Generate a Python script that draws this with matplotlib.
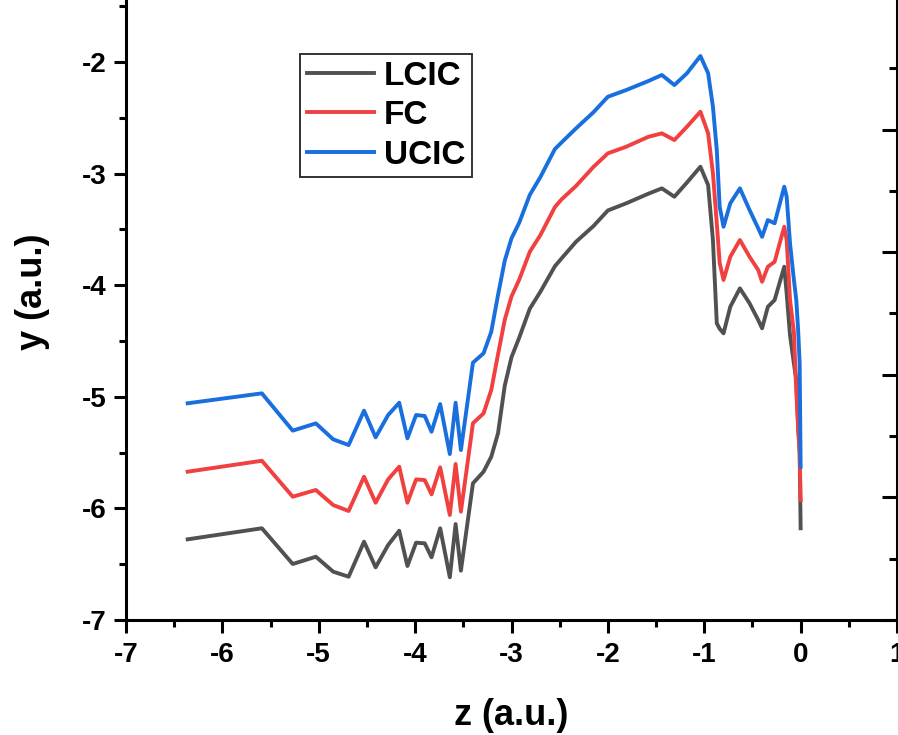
import matplotlib
matplotlib.use("Agg")
import matplotlib.pyplot as plt
from matplotlib.ticker import FixedLocator, MultipleLocator

plt.rcParams['font.family'] = ['Liberation Sans', 'DejaVu Sans']
plt.rcParams['font.weight'] = 'bold'
plt.rcParams['axes.unicode_minus'] = False

# shared z grid
z = [-6.36, -5.59, -5.27, -5.03, -4.85, -4.69, -4.53, -4.41, -4.28, -4.165,
     -4.08, -3.99, -3.90, -3.83, -3.74, -3.64, -3.58, -3.525, -3.40, -3.29,
     -3.21, -3.14, -3.07, -3.00, -2.92, -2.81, -2.70, -2.55, -2.48, -2.33,
     -2.15, -2.00, -1.81, -1.58, -1.44, -1.31, -1.18, -1.04, -0.96, -0.91,
     -0.87, -0.84, -0.80, -0.73, -0.63, -0.53, -0.44, -0.40, -0.34, -0.27,
     -0.17, -0.145, -0.11, -0.07, -0.045, -0.026, -0.01, 0.0]

lcic = [-6.277, -6.178, -6.498, -6.433, -6.567, -6.612, -6.298, -6.528, -6.328, -6.200,
        -6.516, -6.307, -6.313, -6.438, -6.178, -6.617, -6.140, -6.558, -5.775, -5.671,
        -5.537, -5.327, -4.900, -4.645, -4.470, -4.210, -4.058, -3.830, -3.759, -3.610,
        -3.470, -3.330, -3.266, -3.180, -3.132, -3.207, -3.080, -2.938, -3.102, -3.595,
        -4.341, -4.390, -4.431, -4.193, -4.028, -4.162, -4.312, -4.386, -4.193, -4.133,
        -3.834, -4.073, -4.450, -4.700, -4.850, -5.268, -5.500, -6.178]

fc = [-5.671, -5.573, -5.895, -5.835, -5.970, -6.023, -5.716, -5.949, -5.740, -5.626,
      -5.949, -5.740, -5.746, -5.874, -5.632, -6.059, -5.602, -6.029, -5.237, -5.148,
      -4.939, -4.620, -4.310, -4.100, -3.950, -3.700, -3.550, -3.300, -3.230, -3.110,
      -2.940, -2.818, -2.759, -2.670, -2.639, -2.699, -2.580, -2.445, -2.639, -2.997,
      -3.445, -3.800, -3.953, -3.745, -3.595, -3.745, -3.864, -3.969, -3.834, -3.790,
      -3.476, -3.595, -4.133, -4.420, -4.950, -5.268, -5.500, -5.925]

ucic = [-5.058, -4.969, -5.303, -5.238, -5.381, -5.432, -5.124, -5.363, -5.163, -5.053,
        -5.372, -5.163, -5.172, -5.313, -5.065, -5.513, -5.053, -5.477, -4.694, -4.610,
        -4.417, -4.088, -3.780, -3.580, -3.440, -3.190, -3.030, -2.780, -2.720, -2.594,
        -2.450, -2.311, -2.251, -2.170, -2.116, -2.206, -2.101, -1.946, -2.100, -2.400,
        -2.789, -3.297, -3.476, -3.266, -3.132, -3.326, -3.490, -3.566, -3.416, -3.445,
        -3.117, -3.207, -3.625, -3.950, -4.133, -4.400, -4.700, -5.626]

labels = ['LCIC', 'FC', 'UCIC']
colors = ['#515151', '#F14040', '#1A6FDF']

fig = plt.figure(figsize=(8.98, 7.35), dpi=100)
ax = fig.add_axes([0.1403, 0.15646, 0.8586, 0.84354])

for ys, lab, c in zip([lcic, fc, ucic], labels, colors):
    ax.plot(z, ys, color=c, lw=2.8, label=lab)

ax.set_xlim(-7, 1)
ax.set_ylim(-7, -1.444)
ax.xaxis.set_major_locator(MultipleLocator(1))
ax.xaxis.set_minor_locator(MultipleLocator(0.5))
ax.yaxis.set_major_locator(MultipleLocator(1))
ax.yaxis.set_minor_locator(MultipleLocator(0.5))

ax.spines['top'].set_visible(False)
for s in ['left', 'bottom', 'right']:
    ax.spines[s].set_linewidth(2.2)

ax.tick_params(which='major', direction='out', length=9, width=2.2, labelsize=20, pad=5)
ax.tick_params(which='minor', direction='out', length=5, width=2.2)
ax.tick_params(axis='x', which='major', pad=7)
ax.tick_params(right=False, top=False, which='both')
for t in ax.get_xticklabels() + ax.get_yticklabels():
    t.set_fontweight('bold')

# right axis carries its own unlabelled ticks
ax2 = ax.twinx()
ax2.set_ylim(0, 5.057)
ax2.yaxis.set_major_locator(FixedLocator([0, 1, 2, 3, 4]))
ax2.yaxis.set_minor_locator(FixedLocator([0.5, 1.5, 2.5, 3.5, 4.5]))
ax2.tick_params(which='major', direction='in', length=11, width=2.2, labelright=False)
ax2.tick_params(which='minor', direction='in', length=6, width=2.2)
for s in ax2.spines.values():
    s.set_visible(False)

ax.set_xlabel('z (a.u.)', fontsize=26, fontweight='bold')
ax.set_ylabel('y (a.u.)', fontsize=26, fontweight='bold')
ax.xaxis.set_label_coords(0.5, -0.125)
ax.yaxis.set_label_coords(-0.099, 0.53)

leg = ax.legend(loc='upper left', bbox_to_anchor=(0.226, 0.913), fontsize=24,
                frameon=True, fancybox=False, edgecolor='#333333', framealpha=1,
                handlelength=2.0, handletextpad=0.3, labelspacing=0.255,
                borderpad=0.2, borderaxespad=0)
leg.get_frame().set_linewidth(1.4)
for t in leg.get_texts():
    t.set_fontweight('bold')

fig.savefig('out.png', dpi=100)
